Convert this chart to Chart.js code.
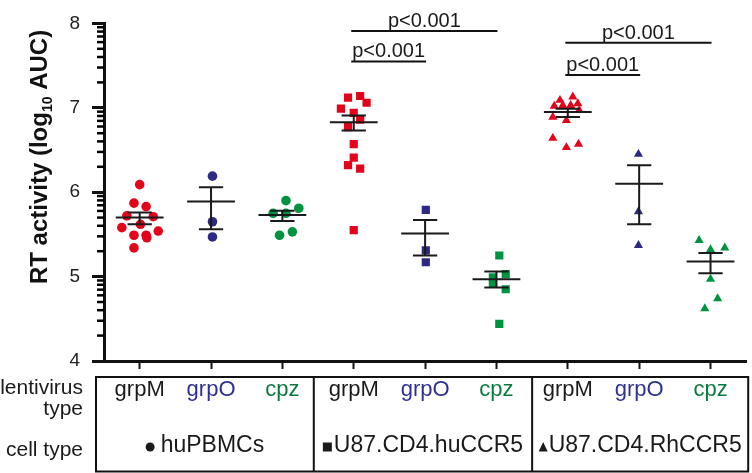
<!DOCTYPE html>
<html><head><meta charset="utf-8">
<script src="https://cdn.jsdelivr.net/npm/chart.js@4.4.0/dist/chart.umd.min.js"></script>
<style>html,body{margin:0;padding:0;background:#fff}#wrap{width:752px;height:473px}</style>
</head><body><div id="wrap"><canvas id="c" width="752" height="473"></canvas></div>
<script>
// ---------- data ----------
const categories = ['grpM','grpO','cpz','grpM','grpO','cpz','grpM','grpO','cpz'];
const cellTypes = ['huPBMCs','U87.CD4.huCCR5','U87.CD4.RhCCR5'];
const yTicks = [4,5,6,7,8];
const minorMultipliers = [2,3,4,5,6,7,8,9];

// values (log10 AUC) and horizontal jitter (in category units) for each group
const pbmcGrpM  = [6.09,5.87,5.83,5.72,5.71,5.62,5.58,5.54,5.49,5.49,5.46,5.34];
const pbmcGrpMJ = [0,-0.08,0.09,-0.18,0.19,0.01,-0.25,0.26,-0.08,0.09,0.10,-0.08];
const pbmcGrpO  = [6.19,5.65,5.47];
const pbmcGrpOJ = [0.02,0.02,0.02];
const pbmcCpz   = [5.90,5.81,5.75,5.75,5.49,5.53];
const pbmcCpzJ  = [0.05,0.23,-0.13,0.05,-0.04,0.14];

const huGrpM  = [7.12,7.14,7.06,6.99,6.94,6.86,6.77,6.57,6.41,6.32,6.28,5.55];
const huGrpMJ = [-0.08,0.09,0.18,-0.18,0,0.09,-0.08,0,0,-0.08,0.09,0];
const huGrpO  = [5.79,5.31,5.17];
const huGrpOJ = [0.01,0.01,0.01];
const huCpz   = [5.25,5.03,4.99,4.92,4.85,4.44];
const huCpzJ  = [0.04,0.13,-0.05,-0.05,0.13,0.04];

const rhGrpM  = [7.13,7.09,7.05,7.02,7.03,7.03,6.97,6.89,6.85,6.64,6.53,6.57];
const rhGrpMJ = [0.07,-0.11,0.14,-0.19,-0.07,0.04,0.16,-0.21,-0.02,-0.21,-0.02,0.15];
const rhGrpO  = [6.45,5.77,5.37];
const rhGrpOJ = [-0.01,-0.01,-0.01];
const rhCpz   = [5.43,5.32,5.34,4.97,4.74,4.62];
const rhCpzJ  = [-0.16,0,0.2,0,0.1,-0.08];

// mean and SEM limits as drawn
const means   = [5.70,5.89,5.73,6.83,5.51,4.97,6.95,6.10,5.18];
const semLow  = [5.62,5.56,5.66,6.73,5.25,4.87,6.89,5.62,5.04];
const semHigh = [5.76,6.06,5.78,6.91,5.67,5.06,6.99,6.32,5.28];

// significance brackets
const sigFrom  = [3,3,6,6];
const sigTo    = [5,4,8,7];
const sigY     = [7.91,7.55,7.77,7.39];
const sigLabel = ['p<0.001','p<0.001','p<0.001','p<0.001'];

// ---------- styles ----------
const FONT = "'Liberation Sans', Arial, Helvetica, sans-serif";
const markerColors = ['#e2041b','#2c2a83','#00933f'];
const labelColors  = ['#1a1a1a','#2e3192','#0b7a3e'];
const shapes = ['circle','rect','triangle'];
const radii  = [4.8,5.8,5.3];

const groupVals = [pbmcGrpM,pbmcGrpO,pbmcCpz,huGrpM,huGrpO,huCpz,rhGrpM,rhGrpO,rhCpz];
const groupJit  = [pbmcGrpMJ,pbmcGrpOJ,pbmcCpzJ,huGrpMJ,huGrpOJ,huCpzJ,rhGrpMJ,rhGrpOJ,rhCpzJ];

const datasets = groupVals.map((vals, g) => ({
  label: cellTypes[Math.floor(g/3)] + ' ' + categories[g],
  data: vals.map((v,i) => ({x: g + groupJit[g][i], y: v})),
  pointStyle: shapes[Math.floor(g/3)],
  pointRadius: radii[Math.floor(g/3)],
  pointBackgroundColor: markerColors[g%3],
  pointBorderColor: markerColors[g%3],
  pointBorderWidth: 0,
  showLine: false
}));

const extras = {
  id: 'extras',
  afterDatasetsDraw(chart) {
    const ctx = chart.ctx, x = chart.scales.x, y = chart.scales.y;
    ctx.save();
    ctx.strokeStyle = '#1a1a1a';
    ctx.lineWidth = 2;
    ctx.lineCap = 'butt';
    means.forEach((m, g) => {
      const cx = x.getPixelForValue(g);
      const half = x.getPixelForValue(g + 0.335) - cx;
      const cap = x.getPixelForValue(g + 0.17) - cx;
      const ym = y.getPixelForValue(m), yl = y.getPixelForValue(semLow[g]), yh = y.getPixelForValue(semHigh[g]);
      ctx.beginPath();
      ctx.moveTo(cx - half, ym); ctx.lineTo(cx + half, ym);
      ctx.moveTo(cx, yl); ctx.lineTo(cx, yh);
      ctx.moveTo(cx - cap, yl); ctx.lineTo(cx + cap, yl);
      ctx.moveTo(cx - cap, yh); ctx.lineTo(cx + cap, yh);
      ctx.stroke();
    });
    ctx.restore();
  },
  afterDraw(chart) {
    const ctx = chart.ctx, area = chart.chartArea, x = chart.scales.x, y = chart.scales.y;
    ctx.save();
    // minor (log) ticks on the y axis
    ctx.strokeStyle = '#000';
    ctx.lineWidth = 2.5;
    const ax = y.right;
    for (let n = 4; n < 8; n++) {
      minorMultipliers.forEach(k => {
        const py = y.getPixelForValue(n + Math.log10(k));
        ctx.beginPath();
        ctx.moveTo(ax - 7, py); ctx.lineTo(ax, py);
        ctx.stroke();
      });
    }
    // significance brackets
    ctx.strokeStyle = '#111';
    ctx.lineWidth = 2;
    ctx.fillStyle = '#1a1a1a';
    ctx.font = '20px ' + FONT;
    ctx.textAlign = 'center';
    ctx.textBaseline = 'alphabetic';
    sigFrom.forEach((f, i) => {
      const x1 = x.getPixelForValue(f) - 2.5, x2 = x.getPixelForValue(sigTo[i]) + 1;
      const py = y.getPixelForValue(sigY[i]);
      ctx.beginPath(); ctx.moveTo(x1, py); ctx.lineTo(x2, py); ctx.stroke();
      ctx.fillText(sigLabel[i], (x1 + x2) / 2, py - 4);
    });
    // y axis title
    ctx.save();
    ctx.translate(47, 157);
    ctx.rotate(-Math.PI/2);
    const big = 'bold 24px ' + FONT, small = 'bold 14px ' + FONT;
    const p1 = 'RT activity (log', p2 = '10', p3 = ' AUC)';
    ctx.font = big; const w1 = ctx.measureText(p1).width, w3 = ctx.measureText(p3).width;
    ctx.font = small; const w2 = ctx.measureText(p2).width;
    let sx = -(w1 + w2 + w3) / 2;
    ctx.textAlign = 'left';
    ctx.fillStyle = '#111';
    ctx.font = big; ctx.fillText(p1, sx, 0); sx += w1;
    ctx.font = small; ctx.fillText(p2, sx, 5); sx += w2;
    ctx.font = big; ctx.fillText(p3, sx, 0);
    ctx.restore();
    // table
    const top = 377, bot = 471.5;
    const left = area.left - 8, right = area.right + 2;
    const d1 = x.getPixelForValue(2.44), d2 = x.getPixelForValue(5.5);
    ctx.strokeStyle = '#111';
    ctx.lineWidth = 2;
    ctx.strokeRect(left, top, right - left, bot - top);
    ctx.beginPath();
    ctx.moveTo(d1, top); ctx.lineTo(d1, bot);
    ctx.moveTo(d2, top); ctx.lineTo(d2, bot);
    ctx.stroke();
    ctx.fillStyle = '#1a1a1a';
    ctx.font = '21px ' + FONT;
    ctx.textAlign = 'right';
    ctx.textBaseline = 'middle';
    ctx.fillText('lentivirus', 83, 388);
    ctx.fillText('type', 83, 409);
    ctx.fillText('cell type', 83, 450);
    // cell type labels with symbols
    const blocks = [[left, d1], [d1, d2], [d2, right]];
    const gaps = [6, 2, 1];
    ctx.font = '23px ' + FONT;
    ctx.textAlign = 'left';
    cellTypes.forEach((t, b) => {
      const tw = ctx.measureText(t).width;
      const sw = 9;
      const total = sw + gaps[b] + tw;
      const cx = (blocks[b][0] + blocks[b][1]) / 2;
      const sx0 = cx - total / 2;
      const sy = 447;
      ctx.beginPath();
      if (b === 0) { ctx.arc(sx0 + 4.5, sy, 4.5, 0, Math.PI*2); }
      else if (b === 1) { ctx.rect(sx0, sy - 4.5, 9, 9); }
      else { ctx.moveTo(sx0 + 4.5, sy - 5); ctx.lineTo(sx0 + 9, sy + 4.5); ctx.lineTo(sx0, sy + 4.5); ctx.closePath(); }
      ctx.fill();
      ctx.fillText(t, sx0 + sw + gaps[b], 446);
    });
    ctx.restore();
  }
};

new Chart(document.getElementById('c'), {
  type: 'scatter',
  data: { datasets },
  options: {
    responsive: false,
    animation: false,
    devicePixelRatio: 1,
    layout: { padding: { top: 15, right: 4, left: 0, bottom: 0 } },
    plugins: { legend: { display: false }, tooltip: { enabled: false } },
    scales: {
      x: {
        type: 'linear', min: -0.5, max: 8.5,
        afterBuildTicks: s => { s.ticks = categories.map((c, i) => ({ value: i })); },
        afterFit: s => { s.height = 112; },
        grid: { drawOnChartArea: false, drawTicks: true, tickLength: 8, tickWidth: 2, color: '#111' },
        border: { display: true, width: 3, color: '#111' },
        ticks: {
          autoSkip: false, maxRotation: 0, padding: 8,
          callback: v => categories[v],
          color: c => labelColors[c.index % 3],
          font: { size: 22, family: FONT }
        }
      },
      y: {
        type: 'linear', min: 4, max: 8,
        afterBuildTicks: s => { s.ticks = yTicks.map(v => ({ value: v })); },
        afterFit: s => { s.width = 104; },
        grid: { drawOnChartArea: false, drawTicks: true, tickLength: 12, tickWidth: 3, color: '#111' },
        border: { display: true, width: 3, color: '#111' },
        ticks: { padding: 12, color: '#222', font: { size: 19, family: FONT }, callback: v => String(v) }
      }
    }
  },
  plugins: [extras]
});
</script>
</body></html>
